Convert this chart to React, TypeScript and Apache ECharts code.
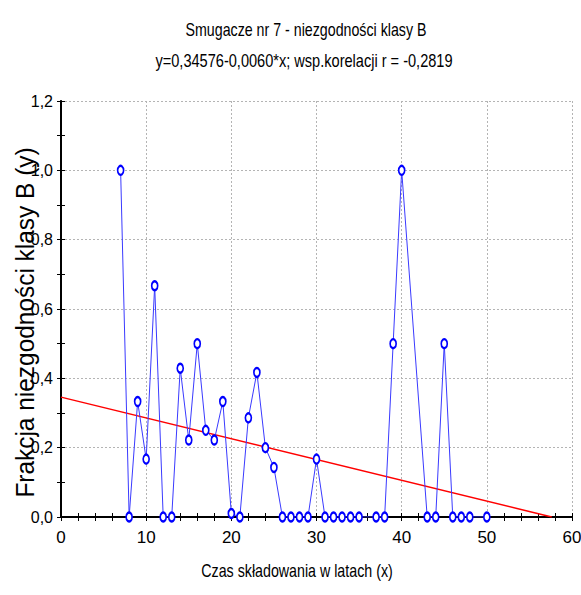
import React, { useEffect, useRef } from "react";
import * as echarts from "echarts";

const titleText = "Smugacze nr 7 - niezgodności klasy B";
const subtitleText = "y=0,34576-0,0060*x; wsp.korelacji r = -0,2819";
const xAxisName = "Czas składowania w latach (x)";
const yAxisName = "Frakcja niezgodności klasy B (y)";

const xValues = [7, 8, 9, 10, 11, 12, 13, 14, 15, 16, 17, 18, 19, 20, 21, 22, 23, 24, 25, 26, 27, 28, 29, 30, 31, 32, 33, 34, 35, 37, 38, 39, 40, 43, 44, 45, 46, 47, 48, 50];
const yValues = [1.0, 0, 0.333, 0.167, 0.667, 0, 0, 0.429, 0.222, 0.5, 0.25, 0.222, 0.333, 0.01, 0, 0.286, 0.417, 0.2, 0.143, 0, 0, 0, 0, 0.167, 0, 0, 0, 0, 0, 0, 0, 0.5, 1.0, 0, 0, 0.5, 0, 0, 0, 0];

const regIntercept = 0.34576;
const regSlope = -0.006;

const FONT = "'Liberation Sans', Arial, sans-serif";

const fmt = (v: number) => v.toFixed(1).replace(".", ",");

export default function App() {
  const ref = useRef<HTMLDivElement>(null);
  useEffect(() => {
    if (!ref.current) return;
    const chart = echarts.init(ref.current, undefined, { renderer: "svg" });
    const points = xValues.map((x, i) => [x, yValues[i]]);
    const xEnd = -regIntercept / regSlope;
    const regLine = [
      [0, regIntercept],
      [xEnd, regIntercept + regSlope * xEnd],
    ];
    const line = (w: number) => ({ show: true, lineStyle: { color: "#000", width: w } });
    const tick = { show: true, inside: true, length: 4, lineStyle: { color: "#000" } };
    const minor = (n: number) => ({ show: true, splitNumber: n, length: 4, lineStyle: { color: "#000" } });
    const txt = (text: string, x: number, y: number, size: number, sx: number, rot = 0) => ({
      type: "text",
      x,
      y,
      rotation: rot,
      scaleX: sx,
      style: {
        text,
        fontFamily: FONT,
        fontSize: size,
        fill: "#000",
        align: "center",
        verticalAlign: "middle",
      },
    });
    chart.setOption({
      animation: false,
      backgroundColor: "#fff",
      graphic: [
        txt(titleText, 306, 29.5, 18, 0.79),
        txt(subtitleText, 304, 60, 18, 0.81),
        txt(xAxisName, 297, 571, 19, 0.75),
        txt(yAxisName, 25, 322.5, 26, 0.94, Math.PI / 2),
      ],
      grid: { left: 61, right: 9, top: 101, bottom: 78, containLabel: false, outerBoundsMode: "none" },
      xAxis: [
        {
          type: "value",
          min: 0,
          max: 60,
          interval: 10,
          position: "bottom",
          axisLine: line(2),
          axisTick: tick,
          minorTick: minor(5),
          axisLabel: { fontFamily: FONT, fontSize: 17, color: "#000", margin: 12 },
          splitLine: { show: true, lineStyle: { color: "#b4b4b4", type: [2, 2], width: 1 } },
        },
        {
          type: "value",
          min: 0,
          max: 60,
          interval: 10,
          position: "top",
          axisLine: line(1.5),
          axisTick: tick,
          minorTick: minor(5),
          axisLabel: { show: false },
          splitLine: { show: false },
        },
      ],
      yAxis: [
        {
          type: "value",
          min: 0,
          max: 1.2,
          interval: 0.2,
          position: "left",
          axisLine: line(2),
          axisTick: tick,
          minorTick: minor(2),
          axisLabel: { fontFamily: FONT, fontSize: 16, color: "#000", margin: 8, formatter: fmt },
          splitLine: { show: true, lineStyle: { color: "#b4b4b4", type: [2, 2], width: 1 } },
        },
        {
          type: "value",
          min: 0,
          max: 1.2,
          interval: 0.2,
          position: "right",
          axisLine: line(1.5),
          axisTick: tick,
          minorTick: minor(2),
          axisLabel: { show: false },
          splitLine: { show: false },
        },
      ],
      series: [
        {
          type: "line",
          data: regLine,
          symbol: "none",
          lineStyle: { color: "#ff0000", width: 1.5 },
          z: 3,
        },
        {
          type: "line",
          data: points,
          symbol: "emptyCircle",
          symbolSize: [6, 9],
          itemStyle: { color: "#0000ff", borderWidth: 1.5 },
          lineStyle: { color: "#3a3aff", width: 1 },
          z: 4,
        },
      ],
    });
    return () => chart.dispose();
  }, []);
  return <div ref={ref} style={{ position: "fixed", left: 0, top: 0, width: 581, height: 595 }} />;
}
